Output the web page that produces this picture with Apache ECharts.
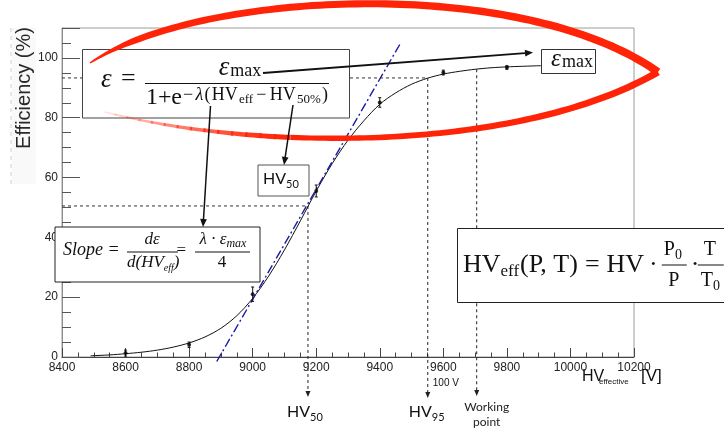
<!DOCTYPE html>
<html>
<head>
<meta charset="utf-8">
<title>RPC efficiency curve</title>
<script src="https://cdn.jsdelivr.net/npm/echarts@6/dist/echarts.min.js"></script>
<style>
html,body{margin:0;padding:0;background:#fff;}
#chart{width:724px;height:432px;}
</style>
</head>
<body>
<div id="chart"></div>
<script>
// Measured efficiency points: HV_eff [V], efficiency [%], error [%]
const pointHV  = [8600, 8800, 9000, 9200, 9400, 9600, 9800];
const pointEff = [1.3, 4.1, 21.0, 55.5, 85.1, 95.1, 96.8];
const pointErr = [1.0, 0.9, 2.4, 2.0, 1.6, 0.8, 0.6];

// Sigmoid fit through the points
const fitHV  = [8490, 8550, 8600, 8650, 8700, 8750, 8800, 8850, 8900, 8950, 9000, 9050, 9100, 9150, 9200,
                9250, 9300, 9350, 9400, 9450, 9500, 9550, 9600, 9650, 9700, 9750, 9800, 9850, 9907];
const fitEff = [0.4, 0.7, 1.1, 1.6, 2.3, 3.3, 4.7, 6.7, 9.6, 13.8, 19.6, 27.0, 35.8, 45.5, 55.5,
                64.6, 72.5, 79.0, 84.5, 88.3, 91.2, 93.2, 94.6, 95.5, 96.2, 96.7, 97.0, 97.2, 97.4];

// Tangent at the inflection point (slope of the curve)
const tangentHV  = [8887, 9464];
const tangentEff = [-1.5, 104.7];

// Characteristic voltages and the efficiency levels where they sit
const hv50 = 9174, hv95 = 9551, workingPoint = 9705;
const eff50 = 50.5, eff95 = 93.3, effWP = 96.2;

// Axis ranges
const xRange = [8400, 10200], xStep = 200;
const yRange = [0, 110], yStep = 20, yMinorStep = 5;

const SANS = 'Liberation Sans';
const SERIF = 'Liberation Serif';
const LABEL = 'Lato';

const chart = echarts.init(document.getElementById('chart'), null, {renderer: 'canvas'});

const option = {
  animation: false,
  grid: {left: 62, right: 90, top: 28, bottom: 75, show: true, borderColor: '#9c9c9c', borderWidth: 1},
  xAxis: {
    type: 'value', min: xRange[0], max: xRange[1], interval: xStep,
    axisLine: {lineStyle: {color: '#444', width: 1}},
    axisTick: {inside: true, length: 9, lineStyle: {color: '#444'}},
    minorTick: {show: true, splitNumber: 4, length: 4.5, lineStyle: {color: '#444'}},
    axisLabel: {fontFamily: SANS, fontSize: 12, color: '#222', margin: 5, formatter: v => String(v)},
    splitLine: {show: false}
  },
  yAxis: [
    {
      type: 'value', min: yRange[0], max: yRange[1], interval: yStep,
      axisLine: {show: true, lineStyle: {color: '#8c8c8c'}},
      axisTick: {inside: true, length: 18, lineStyle: {color: '#555'}},
      axisLabel: {fontFamily: SANS, fontSize: 12, color: '#222', margin: 4,
                  formatter: v => (v % yStep === 0 ? String(v) : '')},
      splitLine: {show: false}
    },
    {
      type: 'value', min: yRange[0], max: yRange[1], interval: yMinorStep, position: 'left',
      axisLine: {show: false},
      axisTick: {inside: true, length: 9, lineStyle: {color: '#555'}},
      axisLabel: {show: false},
      splitLine: {show: false}
    }
  ],
  series: [
    {
      name: 'fit', type: 'line', smooth: 0.3, symbol: 'none', z: 3,
      lineStyle: {color: '#111', width: 1},
      data: fitHV.map((x, i) => [x, fitEff[i]])
    },
    {
      name: 'tangent', type: 'line', symbol: 'none', clip: false, z: 4,
      lineStyle: {color: '#1a1aa6', width: 1.4, type: [9, 3, 2, 3]},
      data: tangentHV.map((x, i) => [x, tangentEff[i]])
    },
    {
      name: 'errors', type: 'custom', z: 5,
      renderItem: (params, api) => {
        const x = api.value(0), y = api.value(1), e = api.value(2);
        const a = api.coord([x, y + e]), b = api.coord([x, y - e]);
        const st = {stroke: '#111', lineWidth: 1};
        return {type: 'group', children: [
          {type: 'line', shape: {x1: a[0], y1: a[1], x2: b[0], y2: b[1]}, style: st},
          {type: 'line', shape: {x1: a[0] - 1.5, y1: a[1], x2: a[0] + 1.5, y2: a[1]}, style: st},
          {type: 'line', shape: {x1: b[0] - 1.5, y1: b[1], x2: b[0] + 1.5, y2: b[1]}, style: st}
        ]};
      },
      data: pointHV.map((x, i) => [x, pointEff[i], pointErr[i]])
    },
    {
      name: 'points', type: 'scatter', symbolSize: 4, z: 6,
      itemStyle: {color: '#000'},
      data: pointHV.map((x, i) => [x, pointEff[i]])
    }
  ]
};
chart.setOption(option);

// ---------- annotation helpers ----------
const mctx = document.createElement('canvas').getContext('2d');
function tw(t, font) { mctx.font = font; return mctx.measureText(t).width; }
function T(t, x, y, font, z, align, color) {
  return {type: 'text', z: z || 120,
          style: {text: t, x: x, y: y, font: font, align: align || 'left', verticalAlign: 'middle', fill: color || '#111'}};
}
// lay out pieces left to right; when a span is given, spread the spare room evenly between pieces
function run(x, parts, z, span) {
  let extra = 0;
  if (span) extra = (span - runWidth(parts)) / Math.max(1, parts.length - 1);
  const els = [];
  for (const [t, font, y, gap] of parts) {
    els.push(T(t, x, y, font, z));
    x += tw(t, font) + (gap || 0) + extra;
  }
  els.end = x;
  return els;
}
function runWidth(parts) { return parts.reduce((s, [t, f, y, g]) => s + tw(t, f) + (g || 0), 0); }
function box(x, y, w, h, stroke, z) {
  return {type: 'rect', z: z || 110, shape: {x, y, width: w, height: h},
          style: {fill: '#fff', stroke: stroke || '#333', lineWidth: 1}};
}
function hline(x1, x2, y, w, z, dash, color) {
  return {type: 'line', z: z || 120, shape: {x1, y1: y, x2, y2: y},
          style: {stroke: color || '#111', lineWidth: w || 1, lineDash: dash || null}};
}
function arrow(x1, y1, x2, y2, w, head, color, z, dash) {
  const a = Math.atan2(y2 - y1, x2 - x1);
  const hl = head, hw = head * 0.42;
  const bx = x2 - hl * Math.cos(a), by = y2 - hl * Math.sin(a);
  return [
    {type: 'line', z: z || 130, shape: {x1, y1, x2: bx, y2: by},
     style: {stroke: color, lineWidth: w, lineDash: dash || null}},
    {type: 'polygon', z: z || 130,
     shape: {points: [[x2, y2], [bx + hw * Math.sin(a), by - hw * Math.cos(a)], [bx - hw * Math.sin(a), by + hw * Math.cos(a)]]},
     style: {fill: color}}
  ];
}
// thick brush stroke along part [ta, tb] of a cubic Bézier, with a variable width
function brush(p0, p1, p2, p3, widthAt, ta, tb) {
  ta = ta || 0; tb = (tb === undefined) ? 1 : tb;
  const L = [], R = [], N = Math.max(4, Math.round(90 * (tb - ta)));
  for (let i = 0; i <= N; i++) {
    const t = ta + (tb - ta) * i / N, u = 1 - t;
    const x = u*u*u*p0[0] + 3*u*u*t*p1[0] + 3*u*t*t*p2[0] + t*t*t*p3[0];
    const y = u*u*u*p0[1] + 3*u*u*t*p1[1] + 3*u*t*t*p2[1] + t*t*t*p3[1];
    const dx = 3*u*u*(p1[0]-p0[0]) + 6*u*t*(p2[0]-p1[0]) + 3*t*t*(p3[0]-p2[0]);
    const dy = 3*u*u*(p1[1]-p0[1]) + 6*u*t*(p2[1]-p1[1]) + 3*t*t*(p3[1]-p2[1]);
    const len = Math.hypot(dx, dy) || 1;
    const nx = -dy / len, ny = dx / len, w = widthAt(t) / 2;
    L.push([x + nx * w, y + ny * w]);
    R.push([x - nx * w, y - ny * w]);
  }
  return L.concat(R.reverse());
}

function drawAnnotations() {
  const P = (x, y) => chart.convertToPixel({gridIndex: 0}, [x, y]);
  const g = [];
  const dash = [3, 3];

  // y-axis title strip
  g.push({type: 'rect', z: 1, shape: {x: 12, y: 28, width: 24, height: 156}, style: {fill: '#f9f9f9'}});
  g.push({type: 'line', z: 1, shape: {x1: 11, y1: 28, x2: 11, y2: 184}, style: {stroke: '#cfcfcf', lineWidth: 1, lineDash: [4, 4]}});
  g.push({type: 'text', z: 2, x: 24, y: 88, rotation: Math.PI / 2,
          style: {text: 'Efficiency (%)', x: 0, y: 0, align: 'center', verticalAlign: 'middle',
                  font: `20px ${SANS}`, fill: '#2a2a2a'}});

  // x-axis title
  g.push(T('HV', 582, 377, `16px ${SANS}`, 20));
  g.push(T('effective', 599, 382, `8px ${SANS}`, 20));
  g.push(T('[V]', 641, 376, `17px ${SANS}`, 20));

  // guide lines for HV50, HV95 and the working point
  const a50 = P(hv50, eff50), a95 = P(hv95, eff95), aWP = P(workingPoint, effWP);
  const x0 = P(xRange[0], 0)[0];
  g.push(hline(x0, a50[0], a50[1], 1, 40, dash, '#333'));
  g.push(hline(x0, a95[0], a95[1], 1, 40, dash, '#333'));
  for (const [p, tip] of [[a50, 397], [a95, 398], [aWP, 396]]) {
    g.push(...arrow(p[0], p[1], p[0], tip, 1, 6, '#222', 40, dash));
  }
  g.push(...run(a50[0] - 21, [['HV', `16px ${LABEL}`, 412], ['50', `11px ${LABEL}`, 417]], 20));
  g.push(...run(a95[0] - 19, [['HV', `16px ${LABEL}`, 412], ['95', `11px ${LABEL}`, 417]], 20));
  g.push(T('100 V', a95[0] + 5, 383, `10px ${SANS}`, 20));
  g.push(T('Working', aWP[0] + 10, 407, `12px ${LABEL}`, 20, 'center', '#222'));
  g.push(T('point', aWP[0] + 10, 422, `12px ${LABEL}`, 20, 'center', '#222'));

  // fit formula
  g.push(box(82.5, 49.5, 267, 68.5, '#444'));
  g.push(T('ε', 101, 79.5, `italic 27px ${SERIF}`));
  g.push(T('=', 121, 79.5, `26px ${SERIF}`));
  const numer = [['ε', `italic 27px ${SERIF}`, 68, 1], ['max', `18px ${SERIF}`, 70.8]];
  g.push(...run(240 - runWidth(numer) / 2, numer));
  g.push(hline(145, 329, 83.5, 1.2));
  const f24 = `24px ${SERIF}`, f18 = `18px ${SERIF}`, f13 = `13px ${SERIF}`;
  g.push(...run(146, [['1', f24, 97.5], ['+', f24, 97.5], ['e', f24, 97.5]], 120, 36));
  g.push(...run(183, [['−', f18, 95, 1], ['λ', `italic 18px ${SERIF}`, 95], ['(', f18, 95], ['HV', f18, 95],
                      ['eff', f13, 99.5, 2], ['−', f18, 95, 2], ['HV', f18, 95], ['50%', f13, 99.5], [')', f18, 95]],
                120, 145));

  // ε_max label at the plateau
  g.push(box(541.5, 49.5, 54, 24, '#333'));
  g.push(T('ε', 551, 59.5, `italic 25px ${SERIF}`));
  g.push(T('max', 562, 62.5, `18px ${SERIF}`));

  // HV50 label
  g.push(box(258, 165, 51, 31, '#555'));
  g.push(...run(263, [['HV', `16px ${LABEL}`, 179], ['50', `11px ${LABEL}`, 184]]));

  // slope formula
  g.push(box(55, 227, 205, 55, '#222'));
  const fi = `italic 17px ${SERIF}`;
  g.push(T('Slope =', 63, 250, `italic 18px ${SERIF}`));
  g.push(T('dε', 152, 240, fi, 120, 'center'));
  g.push(hline(127, 178, 252, 1));
  g.push(...run(127, [['d(HV', fi, 263], ['eff', `italic 10px ${SERIF}`, 268], [')', fi, 263]]));
  g.push(T('=', 176.5, 251, `17px ${SERIF}`));
  g.push(hline(195, 250, 252, 1));
  const numParts = [['λ · ε', fi, 240], ['max', `italic 12px ${SERIF}`, 244]];
  g.push(...run(223 - runWidth(numParts) / 2, numParts));
  g.push(T('4', 222, 263, `17px ${SERIF}`, 120, 'center'));

  // effective HV formula (runs past the right edge of the canvas)
  g.push(box(457.5, 228.5, 300, 74, '#222'));
  const F26 = `26px ${SERIF}`, F17 = `17px ${SERIF}`, F20 = `20px ${SERIF}`, F14 = `14px ${SERIF}`;
  const head = run(463, [['HV', F26, 265], ['eff', F17, 272, 1], ['(P, T)', F26, 265, 7], ['=', F26, 265, 7],
                         ['HV', F26, 265, 5], ['·', F26, 265, 5]]);
  g.push(...head);
  const pc = head.end + 11;
  g.push(...run(pc - 10, [['P', F20, 250], ['0', F14, 255]]));
  g.push(hline(pc - 12, pc + 13, 265, 1));
  g.push(T('P', pc, 281, F20, 120, 'center'));
  g.push(T('·', pc + 17, 265, F26));
  const tc = pc + 36;
  g.push(T('T', tc, 250, F20, 120, 'center'));
  g.push(hline(tc - 12, tc + 14, 265, 1));
  g.push(...run(tc - 9, [['T', F20, 281], ['0', F14, 286]]));

  // red brush ellipse around the plateau
  const RED = [255, 36, 7];
  const rgba = a => `rgba(${RED[0]},${RED[1]},${RED[2]},${a})`;
  const top = [[90, 63], [200, -10], [520, -25], [658, 72]];
  const topW = t => (t < 0.12 ? 1.5 + 5 * t / 0.12 : 6.5 + 1.5 * (t - 0.12) / 0.88);
  g.push({type: 'polygon', z: 125, shape: {points: brush(...top, topW)}, style: {fill: rgba(1)}});
  const bot = [[658, 72], [520, 152], [260, 152], [105, 112]];
  const botW = t => (t < 0.7 ? 7 - 2 * t / 0.7 : 5 - 3.5 * (t - 0.7) / 0.3);
  g.push({type: 'polygon', z: 125, shape: {points: brush(...bot, botW, 0, 0.66)}, style: {fill: rgba(1)}});
  const nFade = 14;
  for (let i = 0; i < nFade; i++) {
    const ta = 0.66 + 0.34 * i / nFade, tb = 0.66 + 0.34 * (i + 1) / nFade + 0.004;
    const alpha = 1 - 0.9 * Math.pow((i + 0.5) / nFade, 1.3);
    g.push({type: 'polygon', z: 125, shape: {points: brush(...bot, botW, ta, Math.min(1, tb))}, style: {fill: rgba(alpha.toFixed(3))}});
  }

  // pointer arrows from the formula
  g.push(...arrow(263, 73, 533, 52.5, 1.8, 8, '#111', 130));
  g.push(...arrow(210.5, 106, 203, 227, 1.5, 8, '#111', 130));
  g.push(...arrow(293, 105, 284, 165, 1.5, 8, '#111', 130));

  chart.setOption({graphic: {elements: g}});
}
drawAnnotations();
</script>
</body>
</html>
